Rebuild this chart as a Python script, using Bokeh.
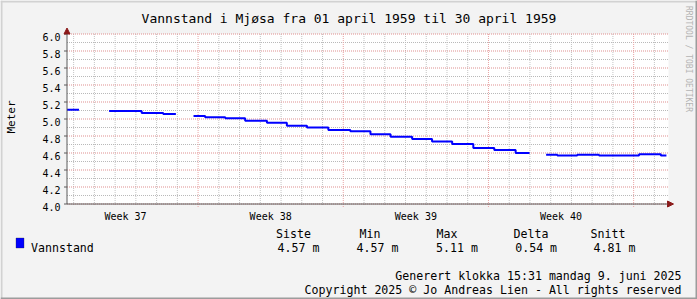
import math
from bokeh.plotting import figure
from bokeh.models import Range1d, Label, BoxAnnotation, Arrow, NormalHead
from bokeh.embed import file_html
from bokeh.resources import INLINE
from bokeh.core.properties import value

# ---------------- data ----------------
title_text = "Vannstand i Mjøsa fra 01 april 1959 til 30 april 1959"
y_label = "Meter"
# time in days since 01 april 1959 00:00; levels[i] holds from times[i] to times[i+1]
times = [0.00, 0.58, 2.03, 3.60, 4.64, 5.25, 6.10, 6.66, 7.63, 8.59, 9.64, 10.60,
         11.57, 12.60, 13.66, 14.63, 15.60, 16.64, 17.60, 18.57, 19.59, 20.60,
         21.63, 22.30, 23.10, 23.64, 24.60, 25.65, 27.58, 28.63, 28.90]
nan = float("nan")
levels = [5.11, nan, 5.095, 5.07, 5.06, nan, 5.035, 5.02, 5.01, 4.98, 4.955, 4.92,
          4.90, 4.87, 4.855, 4.82, 4.79, 4.765, 4.735, 4.705, 4.66, 4.635,
          4.60, nan, 4.58, 4.57, 4.58, 4.57, 4.585, 4.57]
week_labels = ["Week 37", "Week 38", "Week 39", "Week 40"]
first_week_start = 6.32
day_offset = 0.32
x_span = 29.0
y_min, y_max = 4.0, 6.0
y_ticks = [4.0, 4.2, 4.4, 4.6, 4.8, 5.0, 5.2, 5.4, 5.6, 5.8, 6.0]
y_tick_labels = ["4.0", "4.2", "4.4", "4.6", "4.8", "5.0", "5.2", "5.4", "5.6", "5.8", "6.0"]
stat_names = ["Siste", "Min", "Max", "Delta", "Snitt"]
stat_values = ["4.57 m", "4.57 m", "5.11 m", "0.54 m", "4.81 m"]
series_name = "Vannstand"
footer1 = "Generert klokka 15:31 mandag 9. juni 2025"
footer2 = "Copyright 2025 © Jo Andreas Lien - All rights reserved"
watermark = "RRDTOOL / TOBI OETIKER"

# ---------------- build step runs ----------------
runs_x, runs_y = [], []
cx, cy = [], []
for i, lv in enumerate(levels):
    if math.isnan(lv):
        if cx:
            runs_x.append(cx); runs_y.append(cy)
        cx, cy = [], []
        continue
    cx += [times[i], times[i + 1]]
    cy += [lv, lv]
if cx:
    runs_x.append(cx); runs_y.append(cy)

# ---------------- layout ----------------
W, H = 697, 299
FL, FR, FT, FB = 66.5, 668.0, 33.5, 203.5   # plot area in pixels
DPX = (FR - FL) / x_span                     # px per day
VPX = (FB - FT) / (y_max - y_min)            # px per meter
MONO = "DejaVu Sans Mono"

p = figure(width=W, height=H, output_backend="svg", toolbar_location=None,
           x_range=Range1d(-FL / DPX, (W - FL) / DPX),
           y_range=Range1d(y_min - (H - FB) / VPX, y_max + FT / VPX),
           x_axis_location=None, y_axis_location=None,
           min_border=0, min_border_left=0, min_border_right=0,
           min_border_top=0, min_border_bottom=0)
p.title = None
p.background_fill_color = "#f3f3f3"
p.border_fill_color = "#f3f3f3"
p.outline_line_color = None
p.grid.visible = False

# white plot area
p.add_layout(BoxAnnotation(left=0, right=x_span, bottom=y_min, top=y_max,
                           fill_color="white", fill_alpha=1, line_color=None,
                           level="underlay"))

# grids
day_ticks = [day_offset + k for k in range(int(x_span)) if (k - 6) % 7 != 0]
week_ticks = [first_week_start + 7 * k for k in range(4)]
minor_y = [round(y_min + 0.1 + 0.2 * k, 2) for k in range(10)]
GRAY, RED = "#b9b9b9", "#df8f8f"
p.segment(x0=day_ticks, x1=day_ticks, y0=[y_min - 1 / VPX] * len(day_ticks),
          y1=[y_max] * len(day_ticks), line_color="#c4c4c4", line_dash="1 1", line_width=1)
p.segment(x0=[0] * len(minor_y), x1=[x_span] * len(minor_y), y0=minor_y, y1=minor_y,
          line_color=GRAY, line_dash="1 1", line_width=1)
p.segment(x0=week_ticks, x1=week_ticks, y0=[y_min - 3 / VPX] * 4, y1=[y_max] * 4,
          line_color="#e8a5a5", line_dash="1 1", line_width=1)
p.segment(x0=[0] * len(y_ticks), x1=[x_span] * len(y_ticks), y0=y_ticks, y1=y_ticks,
          line_color=RED, line_dash="1 1", line_width=1)

# data line
p.multi_line(runs_x, runs_y, line_color="#0000ff", line_width=2)

# axis lines with arrows
AX = "#5a5a5a"
p.add_layout(Arrow(x_start=0, y_start=y_min, x_end=x_span + 5 / DPX, y_end=y_min,
                   line_color=AX, line_width=1,
                   end=NormalHead(size=6, fill_color="#8b1a1a", line_color="#8b1a1a")))
p.add_layout(Arrow(x_start=0, y_start=y_min, x_end=0, y_end=y_max + 6 / VPX,
                   line_color=AX, line_width=1,
                   end=NormalHead(size=6, fill_color="#8b1a1a", line_color="#8b1a1a")))
# y tick marks
p.segment(x0=[-3 / DPX] * len(y_ticks), x1=[0] * len(y_ticks), y0=y_ticks, y1=y_ticks,
          line_color=AX, line_width=1)

# tick labels
p.text(x=[0] * len(y_ticks), y=y_ticks, text=y_tick_labels, x_offset=-6.5, y_offset=3.3,
       text_align="right", text_baseline="alphabetic", text_font=value(MONO),
       text_font_size="10px", text_color="black")
week_centers = [first_week_start - 3.5 + 7 * k for k in range(4)]
p.text(x=week_centers, y=[y_min] * 4, text=week_labels, y_offset=12.7,
       text_align="center", text_baseline="alphabetic", text_font=value(MONO),
       text_font_size="10px", text_color="black")

# frame borders (3D look)
def sbox(l, r, t, b, col):
    p.add_layout(BoxAnnotation(left=l, right=r, top=H - t, bottom=H - b,
                               left_units="screen", right_units="screen",
                               top_units="screen", bottom_units="screen",
                               fill_color=col, fill_alpha=1, line_color=None,
                               level="overlay"))

sbox(0, W, 0, 2, "#d2d2d2")
sbox(0, 2, 0, H, "#d2d2d2")
sbox(0, W, H - 2, H, "#9c9c9c")
sbox(W - 2, W, 0, H, "#9c9c9c")

def slabel(x, y, text, size, align="left", color="black", angle=0.0, baseline="alphabetic"):
    p.add_layout(Label(x=x, y=H - y, x_units="screen", y_units="screen", text=text,
                       text_font=MONO, text_font_size=size, text_color=color,
                       text_align=align, text_baseline=baseline, angle=angle))

slabel(348.5, 18.3, title_text, "13px", align="center")
slabel(10.8, 116.5, y_label, "11px", align="center", angle=math.pi / 2, baseline="middle")
slabel(688, 58.5, watermark, "8px", align="center", color="#b4b4b4",
       angle=-math.pi / 2, baseline="middle")

# legend
p.add_layout(BoxAnnotation(left=15.5, right=23.5, top=H - 237.5, bottom=H - 247.5,
                           left_units="screen", right_units="screen",
                           top_units="screen", bottom_units="screen",
                           fill_color="#0000ff", fill_alpha=1, line_color="#202020",
                           line_width=1, level="overlay"))
slabel(30.5, 247, series_name, "11.6px")
hx = [275.6, 359, 436, 513, 590]
vx = [277, 356, 435.6, 514.7, 593]
for n, v, a, b in zip(stat_names, stat_values, hx, vx):
    slabel(a, 233, n, "11.6px")
    slabel(b, 247, v, "11.6px")
slabel(681, 275, footer1, "11.6px", align="right")
slabel(681, 289, footer2, "11.6px", align="right")

open("out.html", "w").write(file_html(p, INLINE))
